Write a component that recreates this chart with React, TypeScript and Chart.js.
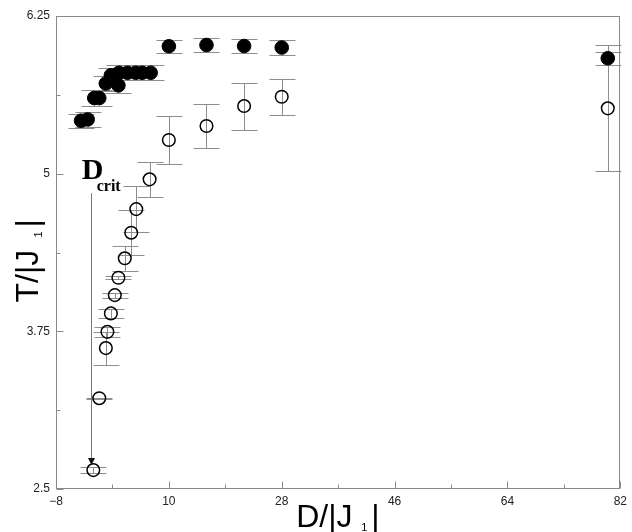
import React, { useEffect, useRef } from "react";
import { Chart, registerables } from "chart.js";

Chart.register(...registerables);

// ---- data ----
const filledD = [-4.0, -2.95, -1.9, -1.1, -0.05, 0.75, 1.95, 2.05, 3.4, 4.7, 5.75, 7.1, 10, 16, 22, 28, 80];
const filledT = [5.42, 5.43, 5.6, 5.6, 5.715, 5.78, 5.7, 5.8, 5.8, 5.8, 5.8, 5.8, 6.01, 6.02, 6.012, 6.0, 5.915];
const filledErr = [0.057, 0.057, 0.06, 0.06, 0.06, 0.06, 0.06, 0.06, 0.06, 0.06, 0.06, 0.06, 0.053, 0.057, 0.053, 0.057, 0.053];

const openD = [-2.05, -1.1, -0.05, 0.2, 0.75, 1.38, 1.95, 2.97, 4.0, 4.8, 6.93, 10, 16, 22, 28, 80];
const openT = [2.65, 3.22, 3.617, 3.746, 3.892, 4.037, 4.175, 4.329, 4.532, 4.719, 4.955, 5.267, 5.378, 5.536, 5.61, 5.518];
const openErr = [0.026, 0.005, 0.13, 0.04, 0.035, 0.02, 0.01, 0.1, 0.18, 0.18, 0.139, 0.19, 0.174, 0.186, 0.143, 0.5];

const xMajorTicks = [-8, 10, 28, 46, 64, 82];
const xMinorTicks = [1, 19, 37, 55, 73];
const xTickLabels = ["\u22128", "10", "28", "46", "64", "82"];
const yMajorTicks = [2.5, 3.75, 5, 6.25];
const yMinorTicks = [3.125, 4.375, 5.625];
const yTickLabels = ["2.5", "3.75", "5", "6.25"];

// D_crit annotation (data coordinates)
const dcritLabelD = -3.9;
const dcritLabelT = 4.957;
const dcritArrowD = -2.35;
const dcritArrowTop = 4.845;
const dcritArrowBottom = 2.69;

const SANS = "'Liberation Sans', Arial, Helvetica, sans-serif";
const SERIF = "'Liberation Serif', 'Times New Roman', serif";

const errorBarPlugin = {
  id: "errorBars",
  beforeDatasetsDraw(chart: any) {
    const { ctx } = chart;
    const x = chart.scales.x;
    const y = chart.scales.y;
    ctx.save();
    ctx.strokeStyle = "#8e8e8e";
    ctx.lineWidth = 1;
    const cap = 13;
    chart.data.datasets.forEach((ds: any) => {
      ds.data.forEach((p: any) => {
        const px = Math.round(x.getPixelForValue(p.x)) + 0.5;
        const top = Math.round(y.getPixelForValue(p.y + p.err)) + 0.5;
        const bot = Math.round(y.getPixelForValue(p.y - p.err)) + 0.5;
        ctx.beginPath();
        ctx.moveTo(px, top);
        ctx.lineTo(px, bot);
        ctx.moveTo(px - cap, top);
        ctx.lineTo(px + cap, top);
        ctx.moveTo(px - cap, bot);
        ctx.lineTo(px + cap, bot);
        ctx.stroke();
      });
    });
    ctx.restore();
  },
};

const framePlugin = {
  id: "frame",
  afterDraw(chart: any) {
    const { ctx, chartArea } = chart;
    const { left, right, top, bottom } = chartArea;
    const x = chart.scales.x;
    const y = chart.scales.y;
    ctx.save();
    ctx.strokeStyle = "#8a8a8a";
    ctx.lineWidth = 1;
    const L = Math.round(left) + 0.5;
    const R = Math.round(right) - 0.5;
    const T = Math.round(top) + 0.5;
    const B = Math.round(bottom) - 0.5;
    ctx.strokeRect(L, T, R - L, B - T);
    ctx.beginPath();
    xMajorTicks.forEach((v) => {
      const px = Math.round(x.getPixelForValue(v)) + 0.5;
      ctx.moveTo(px, B);
      ctx.lineTo(px, B - 7);
    });
    xMinorTicks.forEach((v) => {
      const px = Math.round(x.getPixelForValue(v)) + 0.5;
      ctx.moveTo(px, B);
      ctx.lineTo(px, B - 4);
    });
    yMajorTicks.forEach((v) => {
      const py = Math.round(y.getPixelForValue(v)) + 0.5;
      ctx.moveTo(L, py);
      ctx.lineTo(L + 7, py);
    });
    yMinorTicks.forEach((v) => {
      const py = Math.round(y.getPixelForValue(v)) + 0.5;
      ctx.moveTo(L, py);
      ctx.lineTo(L + 4, py);
    });
    ctx.stroke();

    // D_crit annotation
    const ax = Math.round(x.getPixelForValue(dcritArrowD)) + 0.5;
    const aTop = y.getPixelForValue(dcritArrowTop);
    const aBot = y.getPixelForValue(dcritArrowBottom);
    ctx.beginPath();
    ctx.strokeStyle = "#7a7a7a";
    ctx.moveTo(ax, aTop);
    ctx.lineTo(ax, aBot - 5);
    ctx.stroke();
    ctx.fillStyle = "#111";
    ctx.beginPath();
    ctx.moveTo(ax - 3.5, aBot - 7);
    ctx.lineTo(ax + 3.5, aBot - 7);
    ctx.lineTo(ax, aBot);
    ctx.closePath();
    ctx.fill();

    const lx = x.getPixelForValue(dcritLabelD);
    const ly = y.getPixelForValue(dcritLabelT);
    ctx.fillStyle = "#000";
    ctx.textBaseline = "alphabetic";
    ctx.textAlign = "left";
    ctx.font = `bold 30px ${SERIF}`;
    ctx.fillText("D", lx, ly);
    ctx.font = `bold 16px ${SERIF}`;
    ctx.fillText("crit", lx + 15, ly + 12);

    // axis titles
    const cx = (left + right) / 2;
    const cy = (top + bottom) / 2;
    const drawTitle = () => {
      ctx.font = `32px ${SANS}`;
      ctx.fillText("D/|J", 0, 0);
      ctx.font = `11px ${SANS}`;
      ctx.fillText("1", 65, 4);
      ctx.font = `32px ${SANS}`;
      ctx.fillText("|", 75, 0);
    };
    ctx.save();
    ctx.translate(cx - 42, 527);
    drawTitle();
    ctx.restore();

    ctx.save();
    ctx.translate(38, cy + 50);
    ctx.rotate(-Math.PI / 2);
    ctx.font = `32px ${SANS}`;
    ctx.fillText("T/|J", 0, 0);
    ctx.font = `11px ${SANS}`;
    ctx.fillText("1", 65, 4);
    ctx.font = `32px ${SANS}`;
    ctx.fillText("|", 75, 0);
    ctx.restore();

    ctx.restore();
  },
};

export default function App() {
  const canvasRef = useRef<HTMLCanvasElement | null>(null);

  useEffect(() => {
    const canvas = canvasRef.current;
    if (!canvas) return;
    const filled = filledD.map((d, i) => ({ x: d, y: filledT[i], err: filledErr[i] }));
    const open = openD.map((d, i) => ({ x: d, y: openT[i], err: openErr[i] }));
    const chart = new Chart(canvas, {
      type: "scatter",
      data: {
        datasets: [
          {
            label: "filled",
            data: filled,
            pointRadius: 6.8,
            pointBorderWidth: 1,
            borderColor: "#000",
            backgroundColor: "#000",
            pointStyle: "circle",
          },
          {
            label: "open",
            data: open,
            pointRadius: 6.3,
            pointBorderWidth: 1.5,
            borderColor: "#000",
            backgroundColor: "rgba(0,0,0,0)",
            pointStyle: "circle",
          },
        ],
      },
      options: {
        animation: false,
        responsive: false,
        devicePixelRatio: 1,
        events: [],
        layout: { padding: { left: 0, top: 16, right: 8, bottom: 0 } },
        plugins: {
          legend: { display: false },
          tooltip: { enabled: false },
          title: { display: false },
        },
        scales: {
          x: {
            type: "linear",
            min: -8,
            max: 82,
            grid: { display: false, drawTicks: false },
            border: { display: false },
            afterBuildTicks: (axis: any) => {
              axis.ticks = xMajorTicks.map((v) => ({ value: v }));
            },
            afterFit: (scale: any) => {
              scale.height = 43;
            },
            ticks: {
              autoSkip: false,
              maxRotation: 0,
              padding: 5,
              color: "#222",
              font: { family: SANS, size: 12 },
              callback: (_v: any, i: number) => xTickLabels[i],
            },
          },
          y: {
            type: "linear",
            min: 2.5,
            max: 6.25,
            grid: { display: false, drawTicks: false },
            border: { display: false },
            afterBuildTicks: (axis: any) => {
              axis.ticks = yMajorTicks.map((v) => ({ value: v }));
            },
            afterFit: (scale: any) => {
              scale.width = 56;
            },
            ticks: {
              autoSkip: false,
              padding: 6,
              color: "#222",
              font: { family: SANS, size: 12 },
              callback: (_v: any, i: number) => yTickLabels[i],
            },
          },
        },
      },
      plugins: [errorBarPlugin, framePlugin],
    } as any);
    return () => chart.destroy();
  }, []);

  return (
    <div style={{ position: "fixed", left: 0, top: 0, width: 632, height: 532, background: "#fff" }}>
      <canvas ref={canvasRef} width={632} height={532} style={{ display: "block" }} />
    </div>
  );
}
